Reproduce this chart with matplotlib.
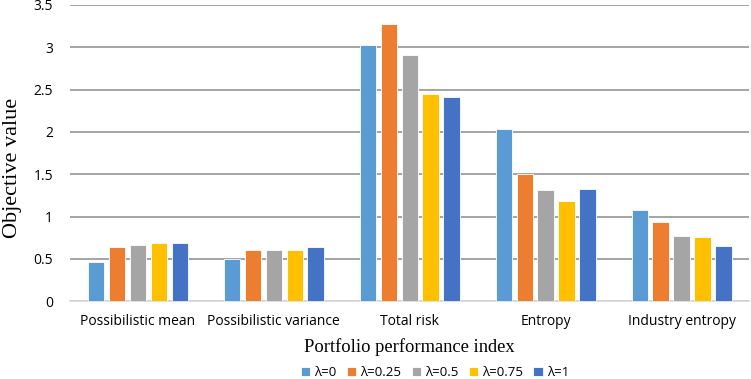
import numpy as np
import matplotlib.pyplot as plt

categories = ['Possibilistic mean', 'Possibilistic variance', 'Total risk',
              'Entropy', 'Industry entropy']
series_names = ['λ=0', 'λ=0.25', 'λ=0.5', 'λ=0.75', 'λ=1']
lam0 = [0.47, 0.50, 3.03, 2.03, 1.08]
lam025 = [0.64, 0.61, 3.27, 1.50, 0.94]
lam05 = [0.67, 0.61, 2.91, 1.31, 0.77]
lam075 = [0.69, 0.61, 2.45, 1.19, 0.76]
lam1 = [0.69, 0.64, 2.41, 1.33, 0.65]
colors = ['#5B9BD5', '#ED7D31', '#A5A5A5', '#FFC000', '#4472C4']

fig = plt.figure(figsize=(7.51, 3.79), dpi=100)
ax = fig.add_axes([0.093, 0.205, 0.905, 0.782])

x = np.arange(len(categories))
pitch = 0.154
width = 0.12
for i, (vals, name) in enumerate(zip([lam0, lam025, lam05, lam075, lam1], series_names)):
    ax.bar(x + (i - 2) * pitch, vals, width, color=colors[i], label=name,
           edgecolor='white', linewidth=0.6, zorder=3)

ax.set_xlim(-0.5, 4.5)
ax.set_ylim(0, 3.5)
ax.set_yticks(np.arange(0, 3.51, 0.5))
ax.set_yticklabels(['0', '0.5', '1', '1.5', '2', '2.5', '3', '3.5'],
                   family='Open Sans', fontsize=10)
ax.set_xticks(x)
ax.set_xticklabels(categories, family='Open Sans', fontsize=10)
ax.tick_params(axis='x', length=0, pad=9)
ax.tick_params(axis='y', length=0, pad=12)
ax.yaxis.grid(True, color='#8c8c8c', linewidth=1.1, zorder=0)
for s in ['top', 'right', 'left']:
    ax.spines[s].set_visible(False)
ax.spines['bottom'].set_color('#d9d9d9')
ax.spines['bottom'].set_linewidth(1.2)

ax.set_ylabel('Objective value', family='Liberation Serif', fontsize=16)
ax.yaxis.set_label_coords(-0.071, 0.45)
ax.set_xlabel('Portfolio performance index', family='Liberation Serif', fontsize=13.3,
              labelpad=7)

ax.legend(loc='center', bbox_to_anchor=(0.537, -0.24), ncol=5, frameon=False,
          prop={'family': 'Open Sans', 'size': 9.5}, handlelength=0.7,
          handleheight=0.7, handletextpad=0.3, columnspacing=0.8)

fig.savefig('out.png', dpi=100)
